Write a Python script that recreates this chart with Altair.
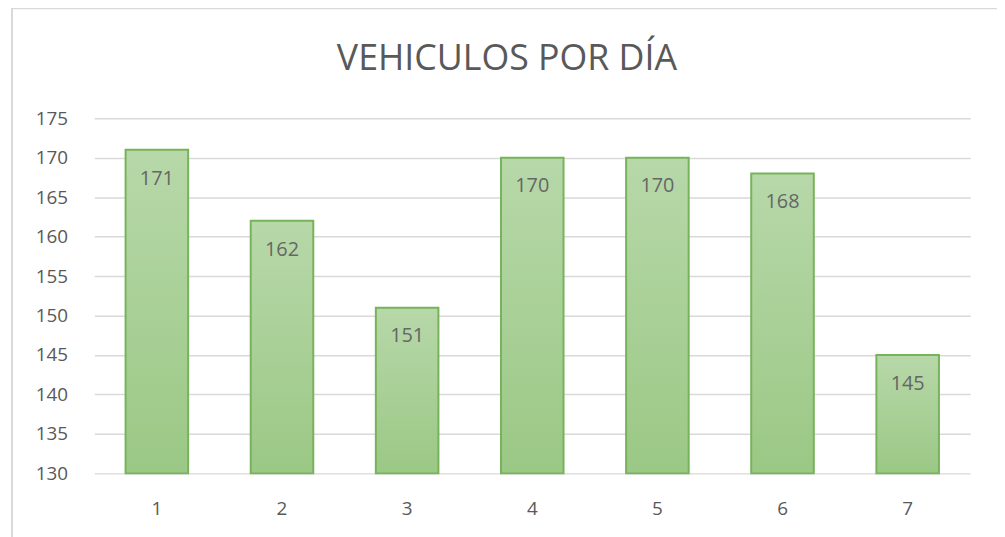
import altair as alt
import pandas as pd

dias = ["1", "2", "3", "4", "5", "6", "7"]
vehiculos = [171, 162, 151, 170, 170, 168, 145]
y_ticks = [130, 135, 140, 145, 150, 155, 160, 165, 170, 175]
titulo = "VEHICULOS POR DÍA"

df = pd.DataFrame({"dia": dias, "vehiculos": vehiculos})
df_title = pd.DataFrame({"t": [titulo]})

W, H = 883, 358
FONT = "Open Sans"
GRAY = "#595959"

grad = alt.Gradient(
    gradient="linear",
    stops=[alt.GradientStop(color="#b7d8a9", offset=0),
           alt.GradientStop(color="#9bc885", offset=1)],
    x1=0, x2=0, y1=0, y2=1,
)

x = alt.X("dia:N", sort=dias, title=None,
          scale=alt.Scale(paddingInner=0.5, paddingOuter=0.25),
          axis=alt.Axis(labelAngle=0, ticks=False, domain=False, grid=False,
                        labelPadding=26, labelFontSize=19, labelColor=GRAY,
                        labelFont=FONT))
y = alt.Y("vehiculos:Q", title=None,
          scale=alt.Scale(domain=[130, 175], zero=False, nice=False),
          axis=alt.Axis(values=y_ticks, tickCount=10, labelOverlap=False,
                        ticks=False, domain=False, grid=True,
                        gridColor="#d9d9d9", gridWidth=1.5, labelPadding=27,
                        labelFontSize=19, labelColor=GRAY, labelFont=FONT))

frame = alt.Chart(df_title).mark_rect(fill=None, stroke="#d9d9d9", strokeWidth=2).encode(
    x=alt.value(-83), x2=alt.value(W + 60),
    y=alt.value(-111), y2=alt.value(H + 90),
)

title = alt.Chart(df_title).mark_text(fontSize=36, font=FONT, color=GRAY,
                                      baseline="middle", align="center").encode(
    x=alt.value(416), y=alt.value(-60), text="t:N"
)

bars = alt.Chart(df).mark_bar(fill=grad, stroke="#76b35a", strokeWidth=2).encode(
    x=x, y=y, y2=alt.datum(130)
)

labels = alt.Chart(df).mark_text(baseline="middle", dy=29, fontSize=20,
                                  color="#666666", font=FONT).encode(
    x=x, y=y, text="vehiculos:Q",
)

chart = alt.layer(frame, title, bars, labels).properties(
    width=W, height=H,
    background="white",
    autosize=alt.AutoSizeParams(type="none"),
    padding={"left": 87, "top": 109, "right": 27, "bottom": 62},
).configure_view(strokeWidth=0, stroke="transparent")

chart.save("out.html", embed_options={"renderer": "svg", "actions": False})
